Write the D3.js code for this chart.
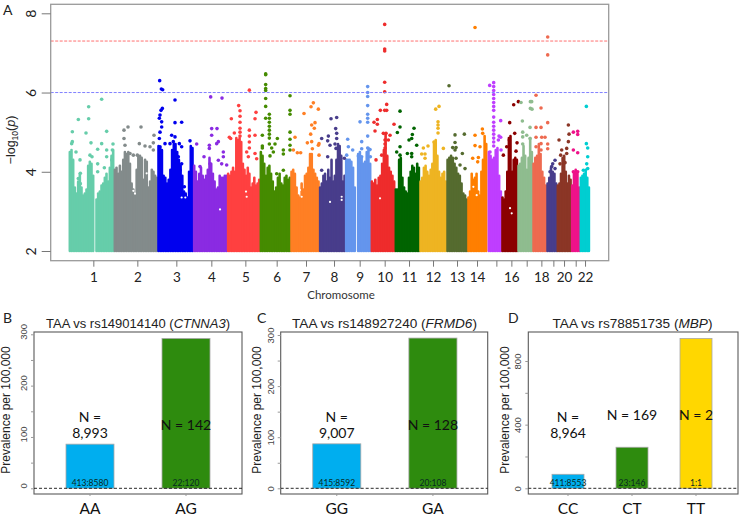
<!DOCTYPE html>
<html>
<head>
<meta charset="utf-8">
<script src="https://cdn.jsdelivr.net/npm/d3@7"></script>
<style>
  html, body { margin: 0; padding: 0; background: #fff; }
  svg { display: block; }
  text { font-family: "Liberation Sans", sans-serif; }
  .lato { font-family: Lato, sans-serif; }
</style>
</head>
<body>
<svg id="fig" width="739" height="516"></svg>
<script>
// genome position is in plot units, 1 unit is about 1.84 Mb
var chrNames = ['1','2','3','4','5','6','7','8','9','10','11','12','13','14','15','16','17','18','19','20','21','22'];
var chrStart = [0,135,266,373,475,573,665,751,829,906,978,1052,1133,1196,1257,1298,1346,1391,1433,1464,1507,1533];
var chrEnd = [135,266,373,475,573,665,751,829,906,978,1052,1133,1196,1254,1298,1346,1391,1433,1464,1507,1533,1562];
var chrTicks = [73,205,322,427,529,623,711,795,872,947,1020,1092,1164,1224,1282,1327,1373,1417,1453,1485,1520,1548];
var chrLabelled = ['1','2','3','4','5','6','7','8','9','10','11','12','13','14','16','18','20','22'];
var chrColors = ['#66CDAA','#838B8B','#0000EE','#8A2BE2','#FF4040','#458B00','#FF7F24','#483D8B','#6495ED','#EE2C2C','#006400','#EEB422','#556B2F','#FF7F00','#BF3EFF','#8B0000','#8FBC8F','#EE6A50','#483D8B','#8B3626','#EE1289','#00CED1'];

// top of the solid mass of points along each chromosome, 0 is a gap with no SNPs
var chrTops = [
  [4.5,4.55,4.3,3.6,3.45,3.75,3.95,3.6,3.4,3.45,3.55,4.15,4.25,4.2,3.9,0,3.3,3.45,3.5,3.65,3.7,3.85,3.95,3.75,4.1,4.4,4.55],
  [4.05,4.1,3.95,4.15,4.0,4.3,4.5,4.45,4.5,4.2,3.7,3.55,3.4,4.05,4.4,4.4,4.35,3.8,4.3,4.25,3.6,3.75,4.05,4.0,3.9,3.85],
  [4.65,4.6,4.55,3.9,3.85,3.7,3.8,4.05,4.55,4.7,4.7,4.5,4.3,4.15,3.9,3.5,3.45,3.35,4.0,4.65,4.6],
  [4.15,4.0,3.75,3.95,4.1,3.9,3.8,3.9,4.05,4.35,4.2,3.95,3.75,3.55,3.6,3.9,3.85,3.85,3.9,3.9],
  [3.95,3.9,4.0,4.1,4.0,4.85,4.8,4.85,4.75,4.2,4.05,3.9,4.1,3.95,3.6,3.7,3.85,3.65,3.7,3.8],
  [4.5,4.4,4.2,3.9,4.1,4.15,3.95,3.75,3.5,3.6,3.85,3.95,3.7,3.65,3.85,3.9,3.8,3.85],
  [4.0,4.05,3.95,3.6,3.4,3.35,3.7,3.55,3.9,3.95,4.1,4.45,4.45,4.05,3.95,3.85,3.75],
  [3.6,3.7,3.9,3.95,3.75,4.05,3.85,4.3,3.75,3.9,4.3,4.7,4.65,4.4,3.75,3.9],
  [4.3,4.3,4.3,4.25,4.1,3.6,0,4.45,4.5,4.35,4.2,4.25,4.5,4.6,4.2],
  [3.75,3.7,3.8,3.65,3.85,3.9,4.2,4.55,4.95,4.4,4.1,4.0,3.9,3.75],
  [3.55,3.55,4.3,4.35,3.85,3.6,3.5,3.45,3.85,4.0,4.15,4.1,3.95,4.2,4.1],
  [3.75,3.85,4.1,4.15,4.0,3.9,4.05,4.2,4.75,4.8,4.4,4.0,3.85,3.95,4.0,3.75],
  [4.3,4.35,4.4,4.35,4.2,4.1,3.95,3.9,3.7,3.45,3.4,3.3],
  [3.35,3.5,3.95,3.8,3.85,3.95,3.5,3.4,4.0,4.3,4.9,4.7],
  [4.5,4.4,4.3,4.35,4.55,4.6,3.9,3.5],
  [3.35,3.3,3.5,4.0,4.85,4.9,4.0,4.3,4.35,4.3],
  [4.15,4.2,4.35,4.65,4.4,4.05,4.35,4.85,4.5],
  [4.2,4.35,4.4,4.7,4.45,4.0,3.85,3.65],
  [3.7,3.85,4.1,4.0,3.95,3.7],
  [3.65,3.7,3.95,4.35,4.4,4.0,3.7,3.9,3.8],
  [3.65,4.0,4.05,3.95,3.6],
  [3.85,3.9,3.95,4.05,3.85,3.6]
];

// single points above the mass, [position, -log10 p]
var chrHits = [
  [[10,5.01],[10,4.76],[8,4.71],[21,4.5],[28,3.83],[34,3.96],[28,5.32],[59,5.64],[59,5.34],[51,4.98],[66,4.73],[63,4.42],[69,4.38],[98,5.83],[113,5.02],[98,4.71],[86,4.57],[86,4.2],[86,4.0],[113,4.55],[113,4.38],[132,4.7],[130,4.55],[33,4.3],[34,3.7],[106,4.1],[128,4.3]],
  [[165,5.05],[177,5.13],[216,5.13],[165,4.84],[168,4.67],[211,4.71],[228,4.65],[243,4.63],[255,4.92],[253,4.73],[253,4.55],[205,4.42],[193,4.42],[183,4.46]],
  [[272,6.3],[277,6.09],[281,6.07],[318,5.81],[280,5.6],[276,5.55],[273,5.43],[271,5.35],[278,5.26],[278,5.13],[273,5],[271,4.84],[273,4.63],[318,5.24],[338,5.25],[308,4.92],[318,4.88],[288,4.71],[303,4.71],[313,4.76],[331,4.71],[338,4.63],[363,4.78],[328,4.38],[338,4.2],[333,4.04],[346,3.62]],
  [[383,4.7],[425,5.89],[459,5.86],[428,5.09],[444,5.09],[428,4.92],[421,4.67],[448,4.76],[443,4.71],[421,4.59],[405,4.38],[463,4.5],[463,4.38],[448,4.29],[458,4.2],[473,4.17],[393,4.13],[423,4.2]],
  [[509,5.67],[541,6.06],[561,5.5],[487,5.34],[558,5.34],[496,4.98],[481,4.87],[485,4.84],[513,5.54],[513,5.4],[513,5.25],[513,5.1],[513,5.0],[513,4.9],[541,5.05],[541,4.9],[541,4.75],[541,4.6],[558,4.92],[558,4.46],[533,4.5],[563,4.33],[538,4.38]],
  [[590,6.47],[590,6.45],[590,6.2],[590,6.1],[590,6.05],[590,5.85],[590,5.65],[590,5.35],[601,5.45],[601,5.35],[601,5.25],[601,5.15],[601,5.05],[601,4.95],[601,4.85],[601,4.7],[580,4.92],[580,4.65],[580,4.6],[625,4.84],[618,4.7],[608,4.6],[613,4.5],[603,4.4],[643,4.55],[643,4.45],[663,5.92],[663,5.55],[663,5.45],[663,5.0],[663,4.82],[663,4.67],[663,4.55],[623,3.95],[643,4.04]],
  [[733,5.74],[726,5.64],[748,5.58],[705,5.47],[738,5.24],[728,5.18],[736,5.1],[725,4.95],[678,4.87],[715,4.73],[728,4.76],[673,4.55],[685,4.48],[695,4.48],[750,4.71],[748,4.67],[750,4.42],[730,4.58]],
  [[786,5.34],[803,5.37],[800,5.09],[803,4.97],[803,4.84],[778,4.9],[776,4.78],[758,4.84],[776,4.38],[798,4.7],[801,4.59],[783,4.67],[758,4.04],[826,4.34]],
  [[896,6.15],[896,6.0],[896,5.9],[896,5.67],[896,5.45],[896,5.35],[896,5.25],[896,4.9],[896,4.6],[873,5.26],[878,4.76],[836,4.82],[838,4.63],[851,4.55],[833,4.42],[878,4.38],[868,4.4],[878,4.58],[904,4.38],[903,4.56]],
  [[947,7.72],[947,7.1],[947,7.05],[947,6.26],[947,6.02],[953,5.7],[953,5.55],[934,5.55],[947,5.55],[925,5.32],[915,5.25],[925,5.2],[918,5.03],[943,4.97],[951,4.97],[963,4.92],[958,4.8],[948,4.8],[948,4.7],[948,4.6],[938,4.42],[921,4.3],[975,5.2]],
  [[993,5.53],[993,5.13],[985,4.99],[1035,5.1],[1030,4.94],[1028,4.84],[1020,4.8],[1043,4.67],[1028,4.46],[1015,4.46],[993,4.63],[983,4.5],[993,4.42],[1028,4.38]],
  [[1110,5.65],[1100,5.58],[1107,5.26],[1107,5.18],[1107,5.1],[1107,4.98],[1063,4.6],[1077,4.65],[1123,4.59],[1058,4.45],[1068,4.45],[1068,4.34],[1095,4.75]],
  [[1140,6.17],[1158,4.93],[1186,4.95],[1158,4.74],[1161,4.61],[1151,4.61],[1180,4.46],[1158,4.55],[1173,4.17],[1188,4.08],[1161,4.34]],
  [[1218,7.64],[1218,4.92],[1218,4.66],[1240,5.08],[1233,4.63],[1228,4.36],[1211,4.34],[1226,4.25],[1241,4.97]],
  [[1274,6.25],[1274,6.15],[1274,6.05],[1274,5.95],[1274,5.85],[1274,5.75],[1274,5.65],[1274,5.55],[1262,6.18],[1274,5.38],[1274,5.25],[1274,5.15],[1274,5.05],[1274,4.95],[1274,4.85],[1274,4.75],[1274,4.65],[1290,4.9],[1288,4.8],[1296,4.55],[1263,4.5],[1295,5.29],[1295,4.87]],
  [[1348,5.77],[1334,5.69],[1322,5.24],[1337,4.97],[1344,4.73],[1341,4.52],[1313,4.63],[1303,4.42],[1321,4.8]],
  [[1356,5.75],[1384,5.77],[1388,5.77],[1384,5.6],[1389,5.58],[1360,5.28],[1383,5.12],[1361,5.0],[1361,4.88],[1373,4.92],[1361,4.7],[1383,4.84]],
  [[1401,5.93],[1436,7.4],[1436,6.95],[1416,5.61],[1436,5.24],[1401,5.12],[1416,5.12],[1418,4.87],[1428,4.87],[1401,4.87],[1416,4.71],[1436,4.7],[1436,4.58],[1401,4.63],[1416,4.55]],
  [[1458,4.29],[1451,4.2],[1458,4.08],[1448,4.13],[1443,4]],
  [[1470,4.8],[1498,5.18],[1500,4.95],[1498,4.76],[1493,4.59],[1493,4.46],[1478,4.55],[1475,4.42],[1473,4.2],[1488,4.23]],
  [[1513,5.0],[1526,5.02],[1526,4.94],[1513,4.55],[1526,4.48],[1513,4.0],[1526,4.0]],
  [[1552,5.65],[1552,4.71],[1556,4.6],[1556,4.38],[1553,4.2],[1556,4.08],[1543,4.04]]
];

// empty spots inside the mass, [position, -log10 p]
var massHoles = [[338,3.35],[349,3.35],[453,3.05],[818,3.29],[818,3.37],[693,3.54],[698,3.37],[193,3.52],[198,3.45],[233,3.96],[531,3.5],[533,3.37],[783,3.24],[1323,3.08],[1328,2.95],[1223,3.41],[933,3.33],[1213,3.62]];

var thresholds = [7.3, 6];
var thresholdColors = ['#FF7070', '#8080FF'];
var manhattanTicks = [2, 4, 6, 8];

// lower panels
var genesB = ['AA', 'AG'];
var prevalenceB = [86, 292];
var sizesB = [['N =', '8,993'], ['N = 142']];
var ratiosB = ['413:8580', '22:120'];

var genesC = ['GG', 'GA'];
var prevalenceC = [87, 294];
var sizesC = [['N =', '9,007'], ['N = 128']];
var ratiosC = ['415:8592', '20:108'];

var genesD = ['CC', 'CT', 'TT'];
var prevalenceD = [88, 258, 942];
var sizesD = [['N =', '8,964'], ['N = 169'], ['N = 2']];
var ratiosD = ['411:8553', '23:146', '1:1'];

var barColors = ['#00AEEF', '#2E8B0E', '#FFD700'];

var svg = d3.select('#fig');

function panelLetter(s, x, y) {
  svg.append('text').attr('class', 'lato').attr('x', x).attr('y', y)
    .attr('font-size', 14).attr('fill', '#222').text(s);
}

// ---- panel A
var x = d3.scaleLinear().domain([0, 1562]).range([69, 589.7]);
var y = d3.scaleLinear().domain([2, 8]).range([251, 13.3]);

var gMan = svg.append('g');

chrNames.forEach(function (name, i) {
  var step = (chrEnd[i] - chrStart[i]) / chrTops[i].length;
  var cols = chrTops[i].map(function (top, k) {
    return { pos: chrStart[i] + step * (k + 0.5), top: top };
  }).filter(function (c) { return c.top > 0; });

  gMan.append('g').selectAll('line')
    .data(cols)
    .enter().append('line')
    .attr('x1', function (c) { return x(c.pos); })
    .attr('x2', function (c) { return x(c.pos); })
    .attr('y1', y(2))
    .attr('y2', function (c) { return y(c.top); })
    .attr('stroke', chrColors[i])
    .attr('stroke-width', 2.6)
    .attr('stroke-linecap', 'round');
});

gMan.append('g').selectAll('circle')
  .data(massHoles)
  .enter().append('circle')
  .attr('cx', function (d) { return x(d[0]); })
  .attr('cy', function (d) { return y(d[1]); })
  .attr('r', 1.1)
  .attr('fill', '#fff');

chrNames.forEach(function (name, i) {
  gMan.append('g').selectAll('circle')
    .data(chrHits[i])
    .enter().append('circle')
    .attr('cx', function (d) { return x(d[0]); })
    .attr('cy', function (d) { return y(d[1]); })
    .attr('r', 1.8)
    .attr('fill', chrColors[i]);
});

thresholds.forEach(function (t, i) {
  svg.append('line')
    .attr('x1', 50.7).attr('x2', 608.7)
    .attr('y1', y(t)).attr('y2', y(t))
    .attr('stroke', thresholdColors[i])
    .attr('stroke-width', 1)
    .attr('stroke-dasharray', '3,1.5');
});

svg.append('rect').attr('x', 50.7).attr('y', 4.3).attr('width', 558).attr('height', 256.4)
  .attr('fill', 'none').attr('stroke', '#9a9a9a').attr('stroke-width', 1.3);

var axY = svg.append('g').attr('transform', 'translate(50.7,0)')
  .call(d3.axisLeft(y).tickValues(manhattanTicks).tickSize(9).tickFormat(d3.format('d')));
axY.select('.domain').remove();
axY.selectAll('line').attr('stroke', '#777');
axY.selectAll('text')
  .attr('transform', 'translate(-15,0) rotate(-90)')
  .attr('x', 0).attr('y', 0).attr('dy', null)
  .attr('text-anchor', 'middle')
  .style('font-size', '14px').style('font-family', 'Lato, sans-serif').attr('fill', '#222');

var axX = svg.append('g').attr('transform', 'translate(0,260.7)')
  .call(d3.axisBottom(x).tickValues(chrTicks).tickSize(6)
    .tickFormat(function (d) {
      var name = chrNames[chrTicks.indexOf(d)];
      return chrLabelled.indexOf(name) >= 0 ? name : '';
    }));
axX.select('.domain').remove();
axX.selectAll('line').attr('stroke', '#777');
axX.selectAll('text').attr('y', 12).attr('dy', '0.71em')
  .style('font-size', '13.5px').style('font-family', 'Lato, sans-serif').attr('fill', '#222');

svg.append('text').attr('class', 'lato').attr('x', 341).attr('y', 299)
  .attr('text-anchor', 'middle').attr('font-size', 11.5).attr('fill', '#333').text('Chromosome');

var yTitle = svg.append('text').attr('transform', 'translate(15,140) rotate(-90)')
  .attr('text-anchor', 'middle').attr('font-size', 12.5).attr('fill', '#222');
yTitle.append('tspan').text('\u2212log');
yTitle.append('tspan').attr('font-size', 8.5).attr('dy', 3).text('10');
yTitle.append('tspan').attr('dy', -3).text('(');
yTitle.append('tspan').attr('font-style', 'italic').text('p');
yTitle.append('tspan').text(')');

panelLetter('A', 3, 15);

// ---- panels B, C, D
function barPanel(o) {
  var g = svg.append('g');
  var xb = d3.scaleBand().domain(o.genes).range(o.band).paddingInner(0.5).paddingOuter(0.25);
  var yb = d3.scaleLinear().domain([0, o.yMax]).range([488.3, o.yMaxPx]);

  g.selectAll('rect.bar')
    .data(o.values)
    .enter().append('rect')
    .attr('class', 'bar')
    .attr('x', function (d, i) { return xb(o.genes[i]); })
    .attr('width', xb.bandwidth())
    .attr('y', function (d) { return yb(d); })
    .attr('height', function (d) { return yb(0) - yb(d); })
    .attr('fill', function (d, i) { return barColors[i]; })
    .attr('stroke', '#a8a8a8')
    .attr('stroke-width', 0.8);

  g.append('rect').attr('x', o.box[0]).attr('y', 332)
    .attr('width', o.box[1] - o.box[0]).attr('height', 162)
    .attr('fill', 'none').attr('stroke', '#5a5a5a').attr('stroke-width', 1.1);

  g.append('line').attr('x1', o.box[0]).attr('x2', o.box[1])
    .attr('y1', yb(0)).attr('y2', yb(0))
    .attr('stroke', '#111').attr('stroke-dasharray', '3,2').attr('stroke-width', 0.9);

  var axL = g.append('g').attr('transform', 'translate(' + o.box[0] + ',0)')
    .call(d3.axisLeft(yb).tickValues(o.ticks).tickSize(3)
      .tickFormat(function (d) { return o.labels.indexOf(d) >= 0 ? d : ''; }));
  axL.select('.domain').remove();
  axL.selectAll('line').attr('stroke', '#999');
  axL.selectAll('text')
    .attr('transform', 'translate(-7,' + (-o.labelShift) + ') rotate(-90)')
    .attr('x', 0).attr('y', 0).attr('dy', null)
    .attr('text-anchor', 'middle')
    .style('font-size', '9.5px').style('font-family', '"Liberation Sans", sans-serif').attr('fill', '#444');

  var axB = g.append('g').attr('transform', 'translate(0,494)')
    .call(d3.axisBottom(xb).tickSize(2));
  axB.select('.domain').remove();
  axB.selectAll('line').attr('stroke', '#999');
  axB.selectAll('text').attr('y', 20).attr('dy', null)
    .style('font-size', '15.5px').style('font-family', 'Lato, sans-serif').attr('fill', '#111');

  // N = labels, tall bars hold them inside
  o.sizes.forEach(function (lines, i) {
    var cx = xb(o.genes[i]) + xb.bandwidth() / 2;
    lines.forEach(function (t, k) {
      var base = lines.length > 1 ? 421.7 + k * 16 : o.singleBase;
      g.append('text').attr('class', 'lato').attr('x', cx).attr('y', base)
        .attr('text-anchor', 'middle').attr('font-size', 14).attr('fill', '#111').text(t);
    });
    g.append('text').attr('class', 'lato').attr('x', cx).attr('y', 486)
      .attr('text-anchor', 'middle').attr('font-size', 8.5).attr('fill', '#062a20').text(o.ratios[i]);
  });

  var title = g.append('text').attr('x', o.titleX).attr('y', 328)
    .attr('text-anchor', 'middle').attr('font-size', o.titleSize).attr('fill', '#222');
  title.append('tspan').text(o.title + ' (');
  title.append('tspan').attr('font-style', 'italic').text(o.gene);
  title.append('tspan').text(')');

  g.append('text').attr('transform', 'translate(' + o.titleY + ',410) rotate(-90)')
    .attr('text-anchor', 'middle').attr('font-size', 12).attr('fill', '#222')
    .text('Prevalence per 100,000');
}

barPanel({ genes: genesB, values: prevalenceB, sizes: sizesB, ratios: ratiosB,
  band: [42, 234], box: [34, 242], yMax: 300, yMaxPx: 334.3, labelShift: 3,
  ticks: [0, 50, 100, 150, 200, 250, 300], labels: [0, 100, 200, 300],
  singleBase: 430, title: 'TAA vs rs149014140', gene: 'CTNNA3', titleX: 138, titleSize: 13, titleY: 10 });

barPanel({ genes: genesC, values: prevalenceC, sizes: sizesC, ratios: ratiosC,
  band: [288.7, 481], box: [280.7, 487.7], yMax: 300, yMaxPx: 335, labelShift: 0,
  ticks: [0, 50, 100, 150, 200, 250, 300], labels: [0, 100, 200, 300],
  singleBase: 430, title: 'TAA vs rs148927240', gene: 'FRMD6', titleX: 384.5, titleSize: 13.6, titleY: 261 });

barPanel({ genes: genesD, values: prevalenceD, sizes: sizesD, ratios: ratiosD,
  band: [536, 728], box: [528.3, 738], yMax: 800, yMaxPx: 361, labelShift: 0,
  ticks: [0, 200, 400, 600, 800], labels: [0, 400, 800],
  singleBase: 420, title: 'TAA vs rs78851735', gene: 'MBP', titleX: 632.5, titleSize: 13.6, titleY: 509 });

panelLetter('B', 3, 323);
panelLetter('C', 257, 323);
panelLetter('D', 508, 323);
</script>
</body>
</html>
